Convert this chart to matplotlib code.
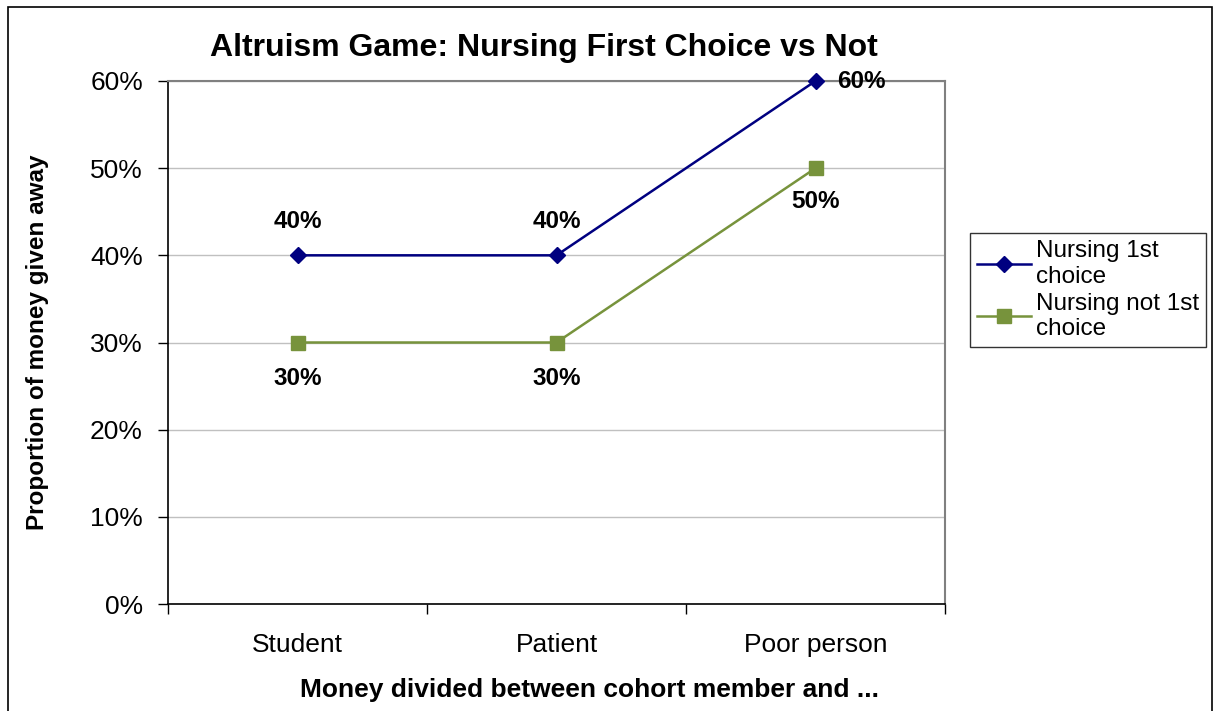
import numpy as np
import matplotlib.pyplot as plt
from matplotlib.patches import Rectangle
from matplotlib.ticker import FuncFormatter, FixedLocator

plt.rcParams["font.family"] = ["Liberation Sans", "DejaVu Sans"]

# data
categories = ["Student", "Patient", "Poor person"]
first_choice = [0.40, 0.40, 0.60]
not_first_choice = [0.30, 0.30, 0.50]
series_names = ["Nursing 1st\nchoice", "Nursing not 1st\nchoice"]

navy = "#000080"
green = "#77933C"

fig = plt.figure(figsize=(12.15, 7.11), dpi=100)
ax = fig.add_axes([168 / 1215, 1 - 604 / 711, (945 - 168) / 1215, (604 - 81) / 711])

x = np.arange(len(categories))
ax.plot(x, first_choice, color=navy, lw=1.8, marker="D", ms=8,
        mfc=navy, mec=navy, label=series_names[0], zorder=3, clip_on=False)
ax.plot(x, not_first_choice, color=green, lw=1.8, marker="s", ms=10,
        mfc=green, mec=green, label=series_names[1], zorder=3, clip_on=False)

# data labels
lab_kw = dict(fontsize=17.5, fontweight="bold", ha="center", va="center",
              textcoords="offset points")
offs1 = [(0, 24), (0, 24), (33, 0)]
offs2 = [(0, -26), (0, -26), (0, -24)]
for i in range(len(categories)):
    ax.annotate(f"{first_choice[i]:.0%}", (x[i], first_choice[i]), xytext=offs1[i], **lab_kw)
    ax.annotate(f"{not_first_choice[i]:.0%}", (x[i], not_first_choice[i]), xytext=offs2[i], **lab_kw)

ax.set_xlim(-0.5, 2.5)
ax.set_ylim(0, 0.6)
ax.set_yticks(np.arange(0, 0.61, 0.1))
ax.yaxis.set_major_formatter(FuncFormatter(lambda v, p: f"{v:.0%}"))
ax.yaxis.grid(True, color="#c0c0c0", lw=1)
ax.set_axisbelow(True)

# category labels between boundary ticks
ax.xaxis.set_major_locator(FixedLocator([-0.5, 0.5, 1.5, 2.5]))
ax.xaxis.set_minor_locator(FixedLocator(x))
ax.set_xticklabels([])
ax.set_xticklabels(categories, minor=True)
ax.tick_params(axis="x", which="major", direction="out", length=7, width=1)
ax.tick_params(axis="x", which="minor", length=0, pad=21, labelsize=19)
ax.tick_params(axis="y", direction="out", length=7, width=1, pad=11, labelsize=19)

for s in ["top", "right"]:
    ax.spines[s].set_color("#808080")
    ax.spines[s].set_linewidth(1.5)
for s in ["left", "bottom"]:
    ax.spines[s].set_color("black")
    ax.spines[s].set_linewidth(1.2)

fig.text(544 / 1215, 1 - 48 / 711, "Altruism Game: Nursing First Choice vs Not",
         fontsize=23, fontweight="bold", ha="center", va="center")
fig.text(589 / 1215, 1 - 690 / 711, "Money divided between cohort member and ...",
         fontsize=19, fontweight="bold", ha="center", va="center")
fig.text(38 / 1215, 1 - 342 / 711, "Proportion of money given away",
         fontsize=17.5, fontweight="bold", ha="center", va="center", rotation=90)

leg = fig.legend(loc="upper left", bbox_to_anchor=(970 / 1215, 1 - 233 / 711),
                 fontsize=17.5, frameon=True, fancybox=False, handlelength=2.2,
                 borderpad=0.3, labelspacing=0.2, handletextpad=0.2,
                 borderaxespad=0)
leg.get_frame().set_edgecolor("black")
leg.get_frame().set_linewidth(1)

# outer chart border
fig.patches.append(Rectangle((8 / 1215, -0.05), (1212 - 8) / 1215, 1 - 7 / 711 + 0.05,
                             transform=fig.transFigure, fill=False,
                             edgecolor="black", lw=1.2))

fig.savefig("out.png", dpi=100)
